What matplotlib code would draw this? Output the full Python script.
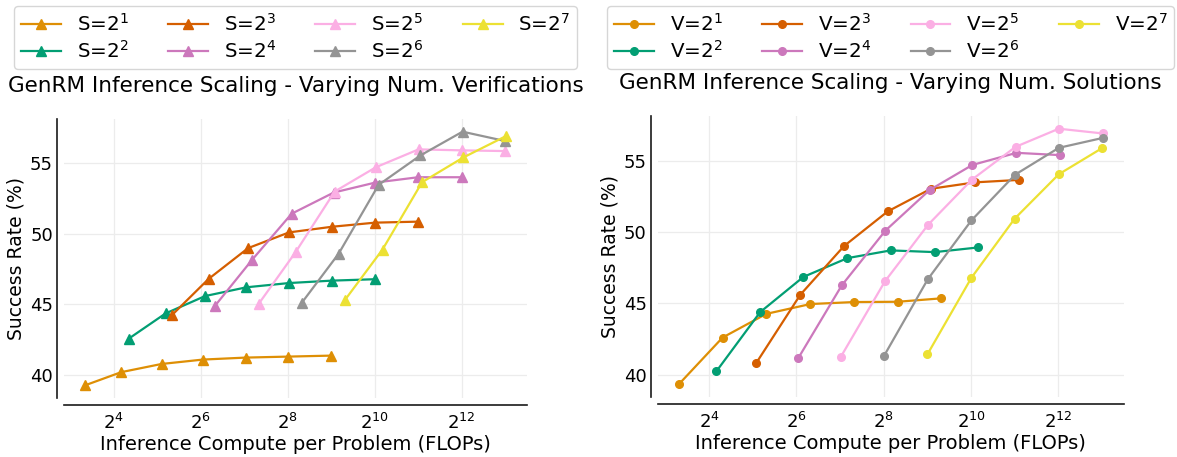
import numpy as np
import matplotlib
matplotlib.use("Agg")
import matplotlib.pyplot as plt

# -----------------------------
# Data (log2 of compute per problem, success rate %)
# -----------------------------
exps = [1, 2, 3, 4, 5, 6, 7]
colors = ["#de8f05", "#029e73", "#d55e00", "#cc78bc", "#fbafe4", "#949494", "#ece133"]

# left panel: varying number of verifications, one line per S
left_log2x = [
    [3.34, 4.17, 5.10, 6.05, 7.03, 8.01, 9.00],
    [4.34, 5.19, 6.10, 7.05, 8.03, 9.01, 10.00],
    [5.33, 6.18, 7.09, 8.03, 9.02, 10.01, 10.99],
    [6.33, 7.18, 8.09, 9.06, 10.01, 11.00, 12.00],
    [7.33, 8.18, 9.08, 10.03, 11.01, 12.00, 12.99],
    [8.32, 9.17, 10.09, 11.05, 12.02, 13.00],
    [9.32, 10.18, 11.09, 12.04, 13.02],
]
left_y = [
    [39.27, 40.20, 40.78, 41.09, 41.23, 41.30, 41.37],
    [42.56, 44.35, 45.58, 46.20, 46.50, 46.67, 46.77],
    [44.21, 46.79, 48.97, 50.08, 50.48, 50.77, 50.84],
    [44.90, 48.14, 51.40, 52.90, 53.60, 53.98, 53.98],
    [45.02, 48.68, 52.97, 54.69, 55.95, 55.88, 55.83],
    [45.09, 48.57, 53.44, 55.52, 57.20, 56.54],
    [45.32, 48.87, 53.63, 55.38, 56.89],
]

# right panel: varying number of solutions, one line per V
right_log2x = [
    [3.31, 4.31, 5.31, 6.32, 7.32, 8.32, 9.32],
    [4.17, 5.17, 6.16, 7.17, 8.16, 9.17, 10.17],
    [5.08, 6.09, 7.09, 8.09, 9.08, 10.09, 11.09],
    [6.04, 7.04, 8.04, 9.05, 10.03, 11.04, 12.03],
    [7.02, 8.03, 9.02, 10.02, 11.02, 12.01, 13.01],
    [8.01, 9.01, 10.01, 11.01, 12.01, 13.01],
    [9.00, 10.01, 11.00, 12.01, 13.00],
]
right_y = [
    [39.32, 42.59, 44.25, 44.94, 45.08, 45.10, 45.34],
    [40.23, 44.37, 46.84, 48.16, 48.70, 48.58, 48.91],
    [40.80, 45.59, 49.00, 51.43, 53.02, 53.47, 53.64],
    [41.13, 46.25, 50.09, 52.93, 54.69, 55.54, 55.38],
    [41.25, 46.54, 50.51, 53.66, 55.96, 57.23, 56.90],
    [41.32, 46.68, 50.81, 54.01, 55.89, 56.58],
    [41.41, 46.79, 50.93, 54.04, 55.87],
]

xticks = [2**4, 2**6, 2**8, 2**10, 2**12]
xticklabels = ["$2^{4}$", "$2^{6}$", "$2^{8}$", "$2^{10}$", "$2^{12}$"]
yticks = [40, 45, 50, 55]

titles = ["GenRM Inference Scaling - Varying Num. Verifications",
          "GenRM Inference Scaling - Varying Num. Solutions"]

# -----------------------------
# Setup figure
# -----------------------------
plt.rcParams["font.family"] = ["DejaVu Sans"]
plt.rcParams["mathtext.fontset"] = "dejavusans"

fig = plt.figure(figsize=(11.77, 4.57), dpi=100)
ax_l = fig.add_axes([0.0544, 0.1291, 0.3934, 0.6105])
ax_r = fig.add_axes([0.5588, 0.1313, 0.3959, 0.6150])

panels = [
    (ax_l, left_log2x, left_y, "S", "^", 6.5),
    (ax_r, right_log2x, right_y, "V", "o", 5.5),
]

for k, (ax, xs, ys, sym, mk, ms) in enumerate(panels):
    for i, e in enumerate(exps):
        ax.plot(np.power(2.0, xs[i]), ys[i], color=colors[i], marker=mk,
                markersize=ms, linewidth=1.6, label=f"{sym}=$2^{{{e}}}$")
    ax.set_xscale("log", base=2)
    ax.set_xticks(xticks)
    ax.set_xticklabels(xticklabels)
    ax.minorticks_off()
    ax.set_yticks(yticks)
    ax.tick_params(axis="both", length=0, labelsize=13)
    ax.tick_params(axis="x", pad=6)
    ax.tick_params(axis="y", pad=3)
    ax.grid(True, color="#ececec", linewidth=0.9)
    ax.set_axisbelow(True)
    for s in ["top", "right"]:
        ax.spines[s].set_visible(False)
    for s in ["left", "bottom"]:
        ax.spines[s].set_position(("outward", 5))
        ax.spines[s].set_color("#1a1a1a")
        ax.spines[s].set_linewidth(1.2)
    ax.set_xlabel("Inference Compute per Problem (FLOPs)", fontsize=14, labelpad=1)
    ax.set_ylabel("Success Rate (%)", fontsize=13.5, labelpad=3)
    ax.set_title(titles[k], fontsize=15.5, pad=19.5)

    # legend above the title, at the same figure height for both panels
    bb = ax.get_position()
    ax.legend(loc="lower center", bbox_to_anchor=(bb.x0 + bb.width / 2, 1 - 69 / 457),
              bbox_transform=fig.transFigure, borderaxespad=0,
              ncol=4, fontsize=14.3, frameon=True, labelspacing=0.28,
              borderpad=0.35)

fig.savefig("out.png", dpi=100)
